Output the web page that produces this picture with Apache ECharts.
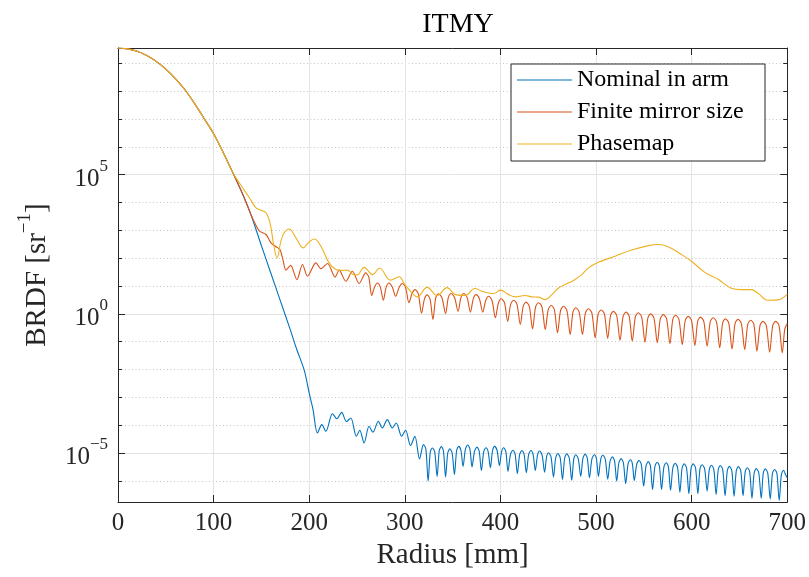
<!DOCTYPE html>
<html>
<head>
<meta charset="utf-8">
<title>ITMY</title>
<script src="https://cdn.jsdelivr.net/npm/echarts@6.0.0/dist/echarts.min.js"></script>
<style>
  html, body { margin: 0; padding: 0; background: #fff; }
  #chart { width: 809px; height: 577px; }
</style>
</head>
<body>
<div id="chart"></div>
<script>
// all y values are log10(BRDF [sr^-1]), x is radius in mm
const mainLobe = [
  [0, 9.55], [10, 9.52], [20, 9.43], [30, 9.28], [40, 9.07], [50, 8.79], [60, 8.45],
  [70, 8.05], [80, 7.56], [90, 7.02], [100, 6.47], [110, 5.80], [120, 5.08]
]

const nominalTail = [
  [130, 4.33], [139, 3.57], [150, 2.45], [160, 1.45], [170, 0.45], [180, -0.55], [187, -1.28],
  [195, -2.05], [200, -2.85], [204, -3.44], [208.6, -4.28], [213.2, -3.98], [217.4, -4.22],
  [224.3, -3.59], [228.9, -3.77], [234, -3.54], [238.9, -3.87], [243.5, -3.74], [249.3, -4.40],
  [252.9, -4.18], [257.4, -4.64], [262.6, -4.04], [266.7, -4.25], [272.3, -3.86], [276.4, -4.10],
  [281.7, -3.80], [286.9, -4.10], [291, -3.92], [296.7, -4.40], [300.8, -4.18], [306, -4.73],
  [310.5, -4.40], [315.4, -5.21],
  [319.5, -4.70], [322.0, -4.85], [324.4, -6.01], [326.6, -4.97], [328.8, -4.82], [331.3, -4.97],
  [333.8, -5.84], [336.0, -4.92], [338.2, -4.77], [340.4, -4.92], [342.6, -5.86], [344.9, -5.00],
  [347.1, -4.85], [349.5, -5.00], [351.9, -5.77], [354.2, -4.91], [356.4, -4.76], [358.7, -4.91],
  [360.9, -5.48], [363.4, -4.86], [365.8, -4.71], [368.1, -4.86], [370.3, -5.50], [372.9, -4.94],
  [375.5, -4.79], [377.8, -4.94], [380.1, -5.63], [382.5, -4.96], [384.9, -4.81], [387.2, -4.96],
  [389.5, -5.53], [391.8, -4.91], [394.0, -4.76], [396.5, -4.91], [398.9, -5.45], [401.2, -4.96],
  [403.4, -4.81], [405.7, -4.96], [407.9, -5.66], [410.5, -5.05], [413.1, -4.90], [415.4, -5.05],
  [417.7, -5.74], [420.1, -5.06], [422.5, -4.91], [424.8, -5.06], [427.1, -5.71], [429.5, -5.06],
  [431.9, -4.91], [434.2, -5.06], [436.5, -5.63], [438.8, -5.08], [441.0, -4.93], [443.6, -5.08],
  [446.2, -5.69], [448.3, -5.14], [450.3, -4.99], [452.9, -5.14], [455.5, -5.86], [457.8, -5.17],
  [460.0, -5.02], [462.5, -5.17], [464.9, -5.95], [467.2, -5.18], [469.4, -5.03], [472.0, -5.18],
  [474.6, -5.98], [476.7, -5.21], [478.8, -5.06], [481.4, -5.21], [484.0, -5.84], [486.3, -5.19],
  [488.6, -5.04], [490.9, -5.19], [493.1, -5.89], [495.7, -5.21], [498.3, -5.06], [500.4, -5.21],
  [502.5, -5.84], [504.9, -5.23], [507.2, -5.08], [509.7, -5.23], [512.2, -5.94], [514.7, -5.29],
  [517.1, -5.14], [519.4, -5.29], [521.6, -6.01], [523.9, -5.35], [526.2, -5.20], [528.6, -5.35],
  [531.0, -6.10], [533.5, -5.39], [535.9, -5.24], [538.0, -5.39], [540.0, -5.99], [542.5, -5.42],
  [545.0, -5.27], [547.4, -5.42], [549.8, -6.19], [552.3, -5.46], [554.7, -5.31], [556.9, -5.46],
  [559.1, -6.31], [561.6, -5.48], [564.0, -5.33], [566.3, -5.48], [568.5, -6.31], [571.0, -5.50],
  [573.4, -5.35], [575.7, -5.50], [577.9, -6.34], [580.4, -5.52], [582.8, -5.37], [585.3, -5.52],
  [587.7, -6.41], [590.0, -5.54], [592.2, -5.39], [594.7, -5.54], [597.1, -6.46], [599.4, -5.54],
  [601.6, -5.39], [604.1, -5.54], [606.5, -6.46], [608.7, -5.57], [610.9, -5.42], [613.6, -5.57],
  [616.2, -6.37], [618.5, -5.59], [620.7, -5.44], [623.2, -5.59], [625.6, -6.49], [627.8, -5.60],
  [630.0, -5.45], [632.5, -5.60], [635.0, -6.53], [637.3, -5.63], [639.5, -5.48], [642.0, -5.63],
  [644.4, -6.55], [646.7, -5.64], [648.9, -5.49], [651.4, -5.64], [653.8, -6.53], [656.0, -5.68],
  [658.2, -5.53], [660.7, -5.68], [663.1, -6.63], [665.4, -5.71], [667.6, -5.56], [670.2, -5.71],
  [672.8, -6.63], [674.9, -5.72], [677.0, -5.57], [679.6, -5.72], [682.2, -6.65], [684.5, -5.74],
  [686.8, -5.59], [689.2, -5.74], [691.6, -6.70], [693.9, -5.77], [696.2, -5.62], [698.1, -5.77],
  [700.0, -5.89]
]

const finiteTail = [
  [130, 4.33], [139, 3.57], [144, 3.20], [148, 2.97], [154.8, 2.85], [160, 2.55], [165.2, 2.41],
  [169.4, 2.31], [172.5, 1.95], [175.7, 1.57], [180.5, 1.74], [187.1, 1.23], [193, 1.77],
  [198.2, 1.35], [207, 1.83], [212.2, 1.62], [219.1, 1.81], [227.1, 1.32], [231.3, 1.57],
  [238.3, 1.17], [245.2, 1.53], [252.2, 1.09],
  [259.1, 1.47], [262.3, 1.32], [265.4, 0.66], [268.3, 0.96], [271.2, 1.11], [274.4, 0.96],
  [277.5, 0.49], [280.5, 0.96], [283.4, 1.11], [286.9, 0.96], [290.4, 0.63], [293.9, 0.94],
  [297.3, 1.09], [300.8, 0.94], [304.3, 0.40], [307.5, 0.72], [310.6, 0.87], [314.1, 0.72],
  [317.5, 0.02], [320.5, 0.53], [323.4, 0.68], [326.4, 0.53], [329.4, -0.20], [332.3, 0.57],
  [335.2, 0.72], [338.9, 0.57], [342.6, 0.01], [345.5, 0.58], [348.4, 0.73], [352.1, 0.58],
  [355.7, 0.09], [358.7, 0.58], [361.7, 0.73], [365.2, 0.58], [368.6, 0.06], [371.6, 0.54],
  [374.5, 0.69], [378.0, 0.54], [381.5, 0.06], [384.6, 0.48], [387.7, 0.63], [391.2, 0.48],
  [394.7, -0.14], [397.9, 0.39], [401.0, 0.54], [404.3, 0.39], [407.6, -0.27], [410.7, 0.34],
  [413.8, 0.49], [417.3, 0.34], [420.8, -0.38], [423.8, 0.27], [426.7, 0.42], [430.2, 0.27],
  [433.6, -0.54], [436.8, 0.25], [439.9, 0.40], [443.4, 0.25], [446.9, -0.56], [450.0, 0.15],
  [453.1, 0.30], [456.4, 0.15], [459.7, -0.68], [462.9, 0.12], [466.0, 0.27], [469.5, 0.12],
  [473.0, -0.74], [475.9, 0.07], [478.8, 0.22], [482.3, 0.07], [485.8, -0.74], [488.9, 0.03],
  [492.0, 0.18], [495.6, 0.03], [499.1, -0.86], [502.2, -0.01], [505.3, 0.14], [508.8, -0.01],
  [512.2, -0.88], [515.2, -0.06], [518.1, 0.09], [521.6, -0.06], [525.1, -0.95], [528.3, -0.09],
  [531.4, 0.06], [534.7, -0.09], [537.9, -0.98], [541.1, -0.11], [544.2, 0.04], [547.7, -0.11],
  [551.2, -1.02], [554.2, -0.15], [557.1, 0.00], [560.6, -0.15], [564.1, -1.04], [567.2, -0.18],
  [570.3, -0.03], [573.8, -0.18], [577.3, -1.07], [580.3, -0.20], [583.2, -0.05], [586.7, -0.20],
  [590.2, -1.10], [593.3, -0.24], [596.4, -0.09], [599.9, -0.24], [603.4, -1.14], [606.3, -0.27],
  [609.2, -0.12], [612.7, -0.27], [616.2, -1.16], [619.4, -0.29], [622.5, -0.14], [626.0, -0.29],
  [629.4, -1.22], [632.4, -0.33], [635.3, -0.18], [638.8, -0.33], [642.3, -1.26], [645.4, -0.35],
  [648.5, -0.20], [652.0, -0.35], [655.5, -1.28], [658.7, -0.38], [661.8, -0.23], [665.1, -0.38],
  [668.3, -1.34], [671.5, -0.42], [674.6, -0.27], [678.1, -0.42], [681.6, -1.38], [684.8, -0.42],
  [687.9, -0.27], [691.4, -0.42], [694.8, -1.40], [697.4, -0.55], [700.0, -0.35]
]

const phaseTail = [
  [127, 4.70], [137.4, 4.17], [144.4, 3.81], [149.6, 3.72], [154.8, 3.63], [159, 3.27],
  [162.8, 2.49], [166.4, 2.01], [170.4, 2.61], [174, 2.92], [179.1, 3.05], [186.1, 2.73],
  [193.7, 2.37], [199, 2.55], [205.2, 2.69], [212.2, 2.43], [220.8, 1.83], [227.8, 1.59],
  [233, 1.56], [239.9, 1.57], [246.9, 1.40], [250.4, 1.40], [257.4, 1.67], [266.4, 1.41],
  [273.5, 1.64], [285.2, 1.21], [293.9, 1.33], [300, 1.05], [306, 0.81], [313, 0.61],
  [323.4, 0.95], [333.8, 0.66], [344.2, 0.94], [353, 0.69], [363.4, 0.66], [373.1, 0.91],
  [380.7, 0.81], [387.7, 0.75], [393, 0.73], [400, 0.85], [408.6, 0.69], [415.6, 0.61],
  [425.3, 0.66], [433, 0.61], [439.9, 0.60], [446.9, 0.51], [453.8, 0.69], [460.8, 0.93],
  [467.7, 1.05], [476.4, 1.20], [485.1, 1.41], [492, 1.65], [502.5, 1.85], [519.9, 2.07],
  [537.2, 2.29], [554.6, 2.45], [565.1, 2.49], [575.5, 2.41], [589.4, 2.13], [599.8, 1.89],
  [613.8, 1.49], [627.7, 1.24], [641.6, 0.92], [652, 0.87], [662.4, 0.87], [669.4, 0.74],
  [679.8, 0.49], [690.2, 0.50], [700, 0.71]
]

const seriesNames = ['Nominal in arm', 'Finite mirror size', 'Phasemap']
const seriesColors = ['#0072BD', '#D95319', '#EDB120']
const xTicks = [0, 100, 200, 300, 400, 500, 600, 700]
const majorDecades = [-5, 0, 5]
const minorDecades = [-6, -4, -3, -2, -1, 1, 2, 3, 4, 6, 7, 8, 9]
const yMin = -6.76
const yMax = 9.55

const font = '"Liberation Serif", "DejaVu Serif", serif'
const ink = '#262626'

const chart = echarts.init(document.getElementById('chart'))

const supLabel = (v) => {
  const e = v < 0 ? '\u2212' + (-v) : String(v)
  return '{b|10}{s|' + e + '}'
}

const yBase = {
  type: 'value',
  min: yMin,
  max: yMax,
  axisLabel: { show: false },
  splitLine: { show: false },
  axisLine: { show: false, onZero: false },
  axisTick: { show: false }
}

const frameLine = { show: true, onZero: false, lineStyle: { color: ink, width: 1 } }

const makeSeries = (i, data, smooth) => ({
  name: seriesNames[i],
  type: 'line',
  data: data,
  showSymbol: false,
  symbol: 'none',
  smooth: smooth,
  lineStyle: { width: 1.1, color: seriesColors[i] },
  itemStyle: { color: seriesColors[i] }
})

const option = {
  animation: false,
  backgroundColor: '#fff',
  title: {
    text: 'ITMY',
    left: 453,
    top: 6,
    textAlign: 'center',
    textStyle: { fontFamily: font, fontSize: 28, fontWeight: 'normal', color: '#000' }
  },
  legend: {
    data: seriesNames,
    orient: 'vertical',
    left: 511,
    top: 64,
    padding: [4, 6, 5, 6],
    itemGap: 8,
    icon: 'rect',
    itemWidth: 55,
    itemHeight: 1.2,
    borderColor: ink,
    borderWidth: 1,
    borderRadius: 0,
    backgroundColor: '#fff',
    textStyle: { fontFamily: font, fontSize: 24, color: '#000', width: 182, lineHeight: 24 }
  },
  grid: { left: 118, right: 20, top: 48, bottom: 75, containLabel: false },
  xAxis: [
    {
      type: 'value',
      min: 0,
      max: 700,
      interval: 100,
      name: 'Radius [mm]',
      nameLocation: 'middle',
      nameGap: 38,
      nameTextStyle: { fontFamily: font, fontSize: 29, color: ink },
      axisLine: frameLine,
      axisTick: { show: true, inside: true, length: 7, lineStyle: { color: ink } },
      axisLabel: {
        margin: 9,
        fontFamily: font,
        fontSize: 25,
        color: ink,
        formatter: (v) => (xTicks.includes(v) ? String(v) : '')
      },
      splitLine: { show: true, lineStyle: { color: '#e3e3e3', width: 1 } }
    },
    {
      type: 'value',
      position: 'top',
      min: 0,
      max: 700,
      interval: 100,
      axisLine: frameLine,
      axisTick: { show: true, inside: true, length: 7, lineStyle: { color: ink } },
      axisLabel: { show: false },
      splitLine: { show: false }
    }
  ],
  yAxis: [
    {
      ...yBase,
      position: 'left',
      name: '{n|BRDF [sr}{s|\u22121}{n|]}',
      nameLocation: 'middle',
      nameGap: 66,
      nameTextStyle: {
        rich: {
          n: { fontFamily: font, fontSize: 29, color: ink, lineHeight: 36, verticalAlign: 'bottom' },
          s: { fontFamily: font, fontSize: 19, color: ink, lineHeight: 19, verticalAlign: 'top' }
        }
      },
      axisLine: frameLine,
      axisTick: { show: true, inside: true, length: 7, customValues: majorDecades, lineStyle: { color: ink } },
      axisLabel: {
        show: true,
        margin: 10,
        customValues: majorDecades,
        formatter: supLabel,
        rich: {
          b: { fontFamily: font, fontSize: 25, color: ink, lineHeight: 34, verticalAlign: 'bottom' },
          s: { fontFamily: font, fontSize: 17, color: ink, lineHeight: 17, verticalAlign: 'top' }
        }
      },
      splitLine: { show: true, lineStyle: { color: '#e3e3e3', width: 1 } }
    },
    {
      ...yBase,
      position: 'left',
      axisTick: { show: true, inside: true, length: 4, customValues: minorDecades, lineStyle: { color: ink } },
      splitLine: { show: true, lineStyle: { color: '#c8c8c8', width: 1, type: [1, 2.5] } }
    },
    {
      ...yBase,
      position: 'right',
      axisLine: frameLine,
      axisTick: { show: true, inside: true, length: 7, customValues: majorDecades, lineStyle: { color: ink } }
    },
    {
      ...yBase,
      position: 'right',
      axisTick: { show: true, inside: true, length: 4, customValues: minorDecades, lineStyle: { color: ink } }
    }
  ],
  series: [
    makeSeries(0, mainLobe.concat(nominalTail), 0.3),
    makeSeries(1, mainLobe.concat(finiteTail), 0.3),
    makeSeries(2, mainLobe.concat(phaseTail), 0.4)
  ]
}

chart.setOption(option)
</script>
</body>
</html>
